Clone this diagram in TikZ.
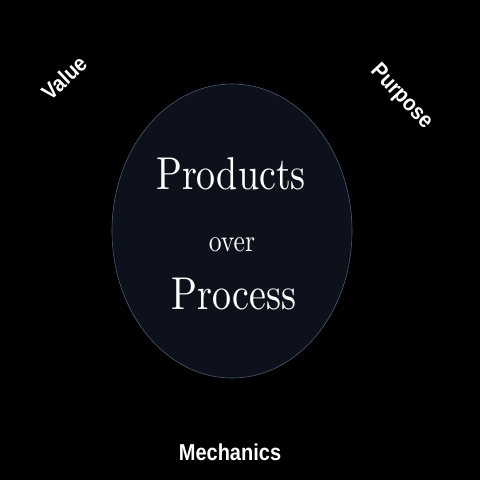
\documentclass[tikz,border=0pt]{standalone}
\usepackage{fontspec}
\setmainfont{lmroman10-regular.otf}
\newfontfamily\labelfont{Liberation Sans}
\usetikzlibrary{shapes.geometric}
\definecolor{ovalfill}{HTML}{0C111B}
\definecolor{ovaledge}{HTML}{4A5A70}
\tikzset{
  lbl/.style={text=white, font=\labelfont\bfseries\fontsize{20}{24}\selectfont, inner sep=0pt},
  big/.style={text=white, font=\fontsize{40}{44}\selectfont, inner sep=0pt, anchor=base},
}
\begin{document}
\begin{tikzpicture}[x=1pt,y=1pt]
\fill[black] (0,0) rectangle (480,480);
\useasboundingbox (0,0) rectangle (480,480);
\node[draw=ovaledge, line width=0.6pt, fill=ovalfill, ellipse, minimum width=240, minimum height=294, inner sep=0pt] (oval) at (232,249) {};
\node[big] (products) at (231,290) {\scalebox{0.95}[1.15]{Products}};
\node[big, font=\fontsize{27}{30}\selectfont] (over) at (232,228) {\scalebox{0.95}[1.15]{over}};
\node[big] (process) at (234,170) {\scalebox{0.95}[1.15]{Process}};
\node[lbl, rotate=43] (value) at (64,402) {\scalebox{1}[1.12]{Value}};
\node[lbl, rotate=-47] (purpose) at (401,383) {\scalebox{1}[1.12]{Purpose}};
\node[lbl] (mech) at (230,28) {\scalebox{1}[1.15]{Mechanics}};
\end{tikzpicture}
\end{document}
